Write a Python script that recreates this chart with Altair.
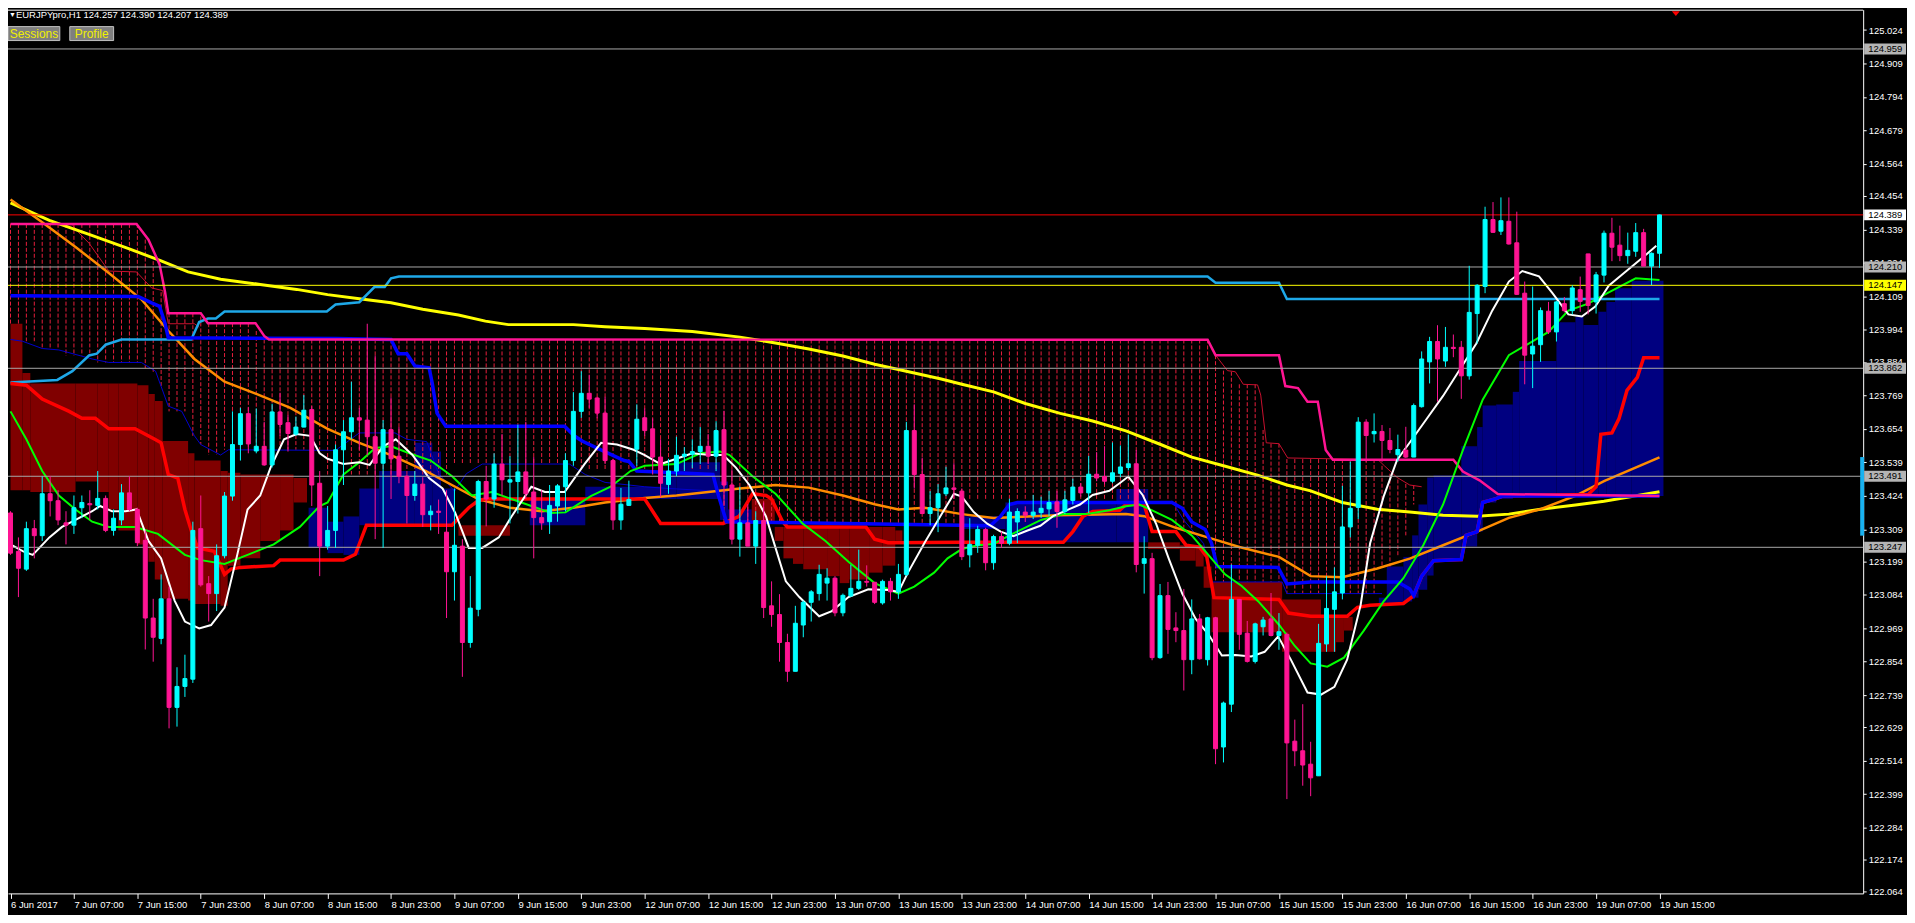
import altair as alt
import pandas as pd

# ---------------- candles (EURJPY H1, bar 0 = 6 Jun 23:00, bar 208 = 19 Jun 15:00) ----------------
OPEN = [123.365,123.233,123.172,123.311,123.287,123.431,123.407,123.331,123.323,123.383,
        123.397,123.391,123.415,123.305,123.341,123.434,123.377,123.271,123.004,122.934,
        123.070,122.697,122.769,122.794,123.311,123.122,123.088,123.218,123.423,123.600,
        123.706,123.578,123.594,123.530,123.712,123.675,123.636,123.660,123.720,123.467,
        123.251,123.305,123.582,123.644,123.692,123.684,123.627,123.536,123.651,123.560,
        123.491,123.425,123.464,123.359,123.371,123.299,123.163,123.251,122.920,123.034,
        123.473,123.413,123.533,123.471,123.473,123.506,123.437,123.349,123.335,123.389,
        123.455,123.545,123.714,123.776,123.760,123.708,123.545,123.341,123.391,123.584,
        123.692,123.654,123.557,123.463,123.509,123.560,123.567,123.576,123.594,123.560,
        123.651,123.461,123.275,123.331,123.251,123.339,123.046,123.016,122.920,122.821,
        122.980,123.058,123.088,123.124,123.141,123.022,123.080,123.106,123.130,123.127,
        123.056,123.130,123.094,123.154,123.648,123.497,123.363,123.383,123.431,123.451,
        123.440,123.221,123.254,123.308,123.194,123.284,123.261,123.334,123.368,123.357,
        123.366,123.379,123.403,123.370,123.408,123.454,123.434,123.498,123.490,123.474,
        123.501,123.521,123.534,123.192,123.208,122.868,123.081,122.970,122.961,122.861,
        123.001,122.861,123.005,122.561,122.708,123.068,122.952,122.855,122.974,123.001,
        122.944,122.948,122.581,122.548,122.502,122.462,122.915,123.034,123.090,123.317,
        123.384,123.677,123.637,123.645,123.614,123.565,123.581,123.557,123.730,123.884,
        123.954,123.887,123.934,123.934,123.836,124.050,124.143,124.373,124.333,124.367,
        124.293,124.120,123.911,123.943,124.058,123.987,124.084,124.060,124.132,124.255,
        124.090,124.182,124.326,124.285,124.249,124.264,124.328,124.213,124.257]
HIGH = [123.371,123.281,123.335,123.341,123.491,123.491,123.443,123.371,123.425,123.425,
        123.443,123.509,123.425,123.377,123.464,123.491,123.383,123.305,123.070,123.154,
        123.112,122.835,122.878,123.335,123.425,123.148,123.257,123.437,123.714,123.726,
        123.728,123.724,123.678,123.740,123.778,123.702,123.696,123.770,123.732,123.509,
        123.389,123.600,123.684,123.816,123.726,124.015,123.906,123.684,123.762,123.660,
        123.497,123.509,123.488,123.391,123.411,123.443,123.449,123.275,123.148,123.479,
        123.527,123.570,123.636,123.560,123.668,123.678,123.557,123.443,123.461,123.464,
        123.570,123.780,123.852,123.840,123.764,123.764,123.551,123.451,123.476,123.738,
        123.724,123.690,123.618,123.551,123.627,123.591,123.618,123.660,123.636,123.680,
        123.716,123.515,123.455,123.395,123.371,123.401,123.130,123.086,122.950,123.046,
        123.064,123.100,123.187,123.175,123.148,123.088,123.187,123.239,123.185,123.127,
        123.136,123.142,123.190,123.678,123.738,123.555,123.440,123.464,123.524,123.536,
        123.449,123.347,123.321,123.314,123.290,123.301,123.414,123.381,123.388,123.427,
        123.421,123.441,123.441,123.441,123.483,123.467,123.561,123.574,123.594,123.607,
        123.597,123.634,123.581,123.285,123.228,123.121,123.128,123.024,123.104,123.068,
        123.018,123.008,123.008,122.717,123.188,123.068,122.994,122.988,123.008,123.090,
        123.021,122.954,122.655,122.708,122.579,122.984,123.148,123.178,123.458,123.541,
        123.694,123.687,123.707,123.667,123.657,123.634,123.661,123.741,123.920,123.970,
        124.010,124.004,123.978,123.956,124.214,124.151,124.417,124.433,124.449,124.449,
        124.400,124.160,124.143,124.071,124.090,124.094,124.107,124.147,124.177,124.255,
        124.193,124.335,124.379,124.352,124.328,124.361,124.341,124.260,124.390]
LOW = [123.221,123.076,123.166,123.209,123.269,123.353,123.323,123.257,123.293,123.347,
       123.341,123.377,123.299,123.287,123.323,123.371,123.251,122.896,122.854,122.914,
       122.625,122.631,122.733,122.781,123.112,122.992,123.028,123.209,123.407,123.545,
       123.570,123.570,123.527,123.521,123.630,123.576,123.630,123.660,123.389,123.148,
       123.239,123.245,123.461,123.618,123.582,123.563,123.275,123.245,123.413,123.467,
       123.329,123.407,123.317,123.305,123.293,123.004,123.064,122.802,122.902,123.010,
       123.319,123.383,123.425,123.329,123.363,123.413,123.209,123.307,123.293,123.335,
       123.371,123.527,123.692,123.726,123.690,123.533,123.307,123.307,123.389,123.527,
       123.630,123.497,123.419,123.431,123.491,123.509,123.519,123.533,123.533,123.509,
       123.389,123.257,123.215,123.251,123.190,123.004,122.974,122.854,122.785,122.821,
       122.938,122.992,123.064,123.064,123.010,123.010,123.076,123.100,123.112,123.052,
       123.050,123.064,123.070,123.148,123.449,123.363,123.323,123.299,123.423,123.413,
       123.203,123.178,123.228,123.168,123.170,123.245,123.254,123.261,123.334,123.344,
       123.348,123.354,123.314,123.361,123.394,123.421,123.365,123.474,123.463,123.467,
       123.487,123.511,123.161,123.088,122.859,122.864,122.881,122.921,122.755,122.811,
       122.861,122.841,122.502,122.508,122.681,122.895,122.851,122.848,122.944,122.941,
       122.895,122.382,122.495,122.428,122.392,122.462,122.888,122.888,123.068,123.281,
       123.344,123.541,123.607,123.541,123.570,123.541,123.554,123.557,123.727,123.810,
       123.747,123.867,123.900,123.757,123.823,123.947,124.120,124.327,124.320,124.287,
       124.114,123.807,123.794,123.884,123.980,123.954,124.054,124.047,124.056,124.047,
       124.050,124.157,124.230,124.230,124.221,124.245,124.213,124.148,124.207]
CLOSE = [123.227,123.175,123.311,123.287,123.431,123.407,123.341,123.323,123.383,123.401,
         123.393,123.415,123.305,123.347,123.434,123.377,123.263,123.004,122.938,123.070,
         122.697,122.769,122.796,123.305,123.118,123.088,123.218,123.423,123.600,123.706,
         123.602,123.594,123.530,123.712,123.669,123.638,123.660,123.718,123.461,123.251,
         123.305,123.582,123.644,123.692,123.684,123.627,123.536,123.651,123.551,123.491,
         123.425,123.464,123.359,123.371,123.367,123.163,123.254,122.920,123.038,123.473,
         123.413,123.533,123.479,123.479,123.506,123.431,123.349,123.331,123.391,123.458,
         123.545,123.714,123.776,123.756,123.708,123.545,123.341,123.395,123.411,123.687,
         123.648,123.557,123.467,123.509,123.563,123.567,123.576,123.594,123.560,123.648,
         123.461,123.275,123.331,123.251,123.339,123.040,123.016,122.920,122.821,122.986,
         123.058,123.094,123.154,123.141,123.022,123.082,123.106,123.130,123.127,123.058,
         123.130,123.094,123.154,123.648,123.497,123.363,123.383,123.431,123.451,123.446,
         123.215,123.257,123.308,123.194,123.284,123.261,123.368,123.370,123.357,123.368,
         123.381,123.401,123.370,123.410,123.454,123.434,123.498,123.485,123.474,123.503,
         123.523,123.534,123.188,123.208,122.868,123.081,122.965,122.961,122.861,123.001,
         122.864,123.005,122.555,122.712,123.068,122.948,122.855,122.984,122.997,122.944,
         122.957,122.575,122.548,122.499,122.455,122.917,123.037,123.094,123.317,123.381,
         123.677,123.631,123.645,123.614,123.583,123.583,123.557,123.734,123.894,123.954,
         123.894,123.934,123.930,123.836,124.054,124.147,124.373,124.329,124.369,124.289,
         124.116,123.907,123.938,124.060,123.987,124.090,124.060,124.138,124.092,124.078,
         124.183,124.326,124.278,124.249,124.267,124.328,124.213,124.257,124.389]

# ---------------- indicator lines (bar position, price) ----------------
YELLOW_X = [0,4.9,9.9,14.9,19,22.4,26.5,31.5,36.1,40,44,48,52,56.5,59.9,62.8,71,75,80,86,92,96.5,100.7,105,109,113,117.4,120,124,128,132.4,136.5,140.7,145,149,153,157.4,161,164,168,172.4,176.5,180.7,185,189,193,197.4,201,208]
YELLOW_P = [124.430,124.370,124.322,124.273,124.231,124.193,124.168,124.150,124.133,124.115,124.101,124.087,124.065,124.045,124.024,124.012,124.012,124.005,123.999,123.988,123.969,123.949,123.928,123.904,123.876,123.852,123.825,123.807,123.781,123.741,123.707,123.681,123.647,123.601,123.557,123.527,123.494,123.461,123.441,123.401,123.378,123.368,123.357,123.354,123.361,123.378,123.392,123.405,123.438]

ORANGE_X = [0,4,8.2,12.4,16.5,19.9,23.2,27,31,35.3,40,44,48,52.4,56.5,59,63,67,71,75,80,84,88,92,96.5,100.7,105,109,112,115.3,120,124,132,140.7,143,147,151,155,160,164,168,172.4,176.5,180.7,185,189,193,197.4,201,208]
ORANGE_P = [124.442,124.364,124.279,124.189,124.099,123.991,123.894,123.816,123.774,123.726,123.654,123.606,123.564,123.509,123.449,123.413,123.383,123.371,123.383,123.401,123.416,123.425,123.437,123.449,123.461,123.452,123.425,123.395,123.377,123.383,123.361,123.348,123.357,123.361,123.354,123.314,123.281,123.248,123.214,123.148,123.144,123.174,123.208,123.254,123.301,123.348,123.378,123.424,123.474,123.556]

GREEN_X = [0,2,4,6.1,8.2,10.3,12.4,15.7,18.6,22,24,27,29.9,33.2,36.5,39,40,42,44,46,48,50.3,53,55.7,58.2,60.7,63.2,65.7,68.2,70,73.2,75.7,78.2,80,84,87,89.5,90.7,93.6,96.5,99.9,102.8,105.7,109,112,114,116.5,118.2,120,122,124,126,130,132.8,135.7,138.6,140.7,142.4,144,146.5,149,151.5,153.2,155.3,157.4,160,162,164,166.1,168.2,170.7,173.2,175.7,178.2,180.7,183.2,185.7,189,191.5,194,196.5,199,201.6,205,208]
GREEN_P = [123.714,123.618,123.509,123.425,123.377,123.335,123.317,123.317,123.293,123.221,123.203,123.190,123.221,123.257,123.317,123.389,123.401,123.497,123.539,123.588,123.594,123.570,123.545,123.491,123.425,123.437,123.413,123.389,123.365,123.367,123.423,123.455,123.509,123.527,123.533,123.570,123.576,123.564,123.491,123.431,123.329,123.269,123.197,123.124,123.088,123.112,123.160,123.209,123.241,123.254,123.258,123.288,123.341,123.361,123.361,123.374,123.388,123.394,123.374,123.341,123.288,123.208,123.154,123.114,123.061,122.981,122.908,122.848,122.837,122.868,122.961,123.061,123.141,123.254,123.394,123.581,123.754,123.907,123.947,123.987,124.060,124.084,124.123,124.171,124.165]

WHITE_X = [0,1.6,2.8,4.9,6.5,8.2,10.3,11.3,12.8,14.5,15.9,17.4,19,20.7,22,23.8,25.3,27,28.6,29.9,31.5,32.8,34.5,36.1,37.8,39,40,42,44,45.3,47,48.6,50.7,52.8,54.5,56.1,57.8,59.5,61.6,63.2,65.7,67.4,69.9,72.4,74.5,76.5,78.6,80,82,84,86,88.2,89.9,91.5,93.2,95.3,96.5,97.8,99.5,102,103.6,105.7,108.2,110.7,112,113.2,115.3,117.4,119,120,121.5,123.2,124.9,126.5,128.2,129.9,131.5,133.2,134.9,136.5,138.6,139.9,141,142.8,144.5,146.1,147.8,149.5,151.1,152.8,154.5,156.5,158.2,159.9,161.5,163.6,165.3,167,168.6,170.3,171.5,173.2,174.9,176.5,178.6,180.7,183.2,184.9,186.9,189,190.7,192.8,194.5,196.5,198.2,199.9,201.6,203.6,205.7,207.6]
WHITE_P = [123.257,123.233,123.221,123.281,123.317,123.341,123.371,123.389,123.371,123.371,123.377,123.269,123.209,123.064,122.992,122.968,122.980,123.040,123.221,123.377,123.425,123.521,123.618,123.636,123.630,123.570,123.551,123.533,123.539,123.530,123.594,123.618,123.564,123.485,123.449,123.365,123.245,123.245,123.281,123.353,123.455,123.437,123.437,123.533,123.606,123.600,123.582,123.564,123.533,123.551,123.570,123.564,123.564,123.521,123.461,123.353,123.245,123.130,123.076,123.010,123.028,123.076,123.103,123.100,123.094,123.160,123.263,123.359,123.431,123.421,123.368,123.328,123.301,123.285,123.304,123.321,123.354,123.374,123.394,123.427,123.441,123.467,123.490,123.427,123.328,123.208,123.088,123.001,122.948,122.875,122.877,122.872,122.888,122.941,122.861,122.748,122.741,122.768,122.861,123.048,123.261,123.421,123.547,123.607,123.687,123.767,123.874,123.947,124.060,124.160,124.196,124.178,124.120,124.047,124.040,124.074,124.146,124.191,124.238,124.283]

RED_X = [0,2,4,7.4,9,10.7,12.4,15.7,18.2,19,19.9,21.1,22,22.8,23.6,25.7,27,27.8,29,33.2,34,42,43.5,44.9,55.7,56.5,57.8,59,59.9,80,81,82,89.9,91.9,93.6,95.3,96,97.4,98,107.9,109,110.7,120,132.8,134,135.3,136.5,139.9,140.7,143,144,147,148.3,150,150.9,151.8,160,161.2,164,168.6,169.9,171.5,175.7,177,178,179.5,183,183.6,185,185.7,187.4,188.2,199,200,200.6,202,202.9,203.9,205.2,206,208]
RED_P = [123.810,123.804,123.756,123.714,123.690,123.690,123.654,123.654,123.618,123.606,123.497,123.485,123.377,123.305,123.245,123.233,123.154,123.172,123.178,123.184,123.203,123.203,123.223,123.323,123.323,123.347,123.383,123.407,123.413,123.413,123.371,123.329,123.329,123.353,123.431,123.425,123.413,123.335,123.317,123.317,123.275,123.263,123.264,123.264,123.301,123.354,123.370,123.374,123.394,123.394,123.301,123.301,123.254,123.248,123.214,123.074,123.068,123.021,123.010,123.010,123.041,123.048,123.054,123.081,123.148,123.201,123.205,123.288,123.301,123.401,123.414,123.423,123.428,123.455,123.635,123.640,123.689,123.786,123.831,123.898,123.898]

BLUE_X = [0,16.1,17.8,18.8,19.5,19.9,41,48,48.9,50,51,52.8,53.2,53.8,54.9,69.9,71.1,72.1,74,77.4,78,79,88.6,89.3,90.3,120,123.6,124.9,126,127,146.5,147.8,149,150.7,151.5,152.2,159.9,161,164,175,176.5,177,178,179.5,183,183.6,185,185.7,187.4,188.2,208]
BLUE_P = [124.111,124.109,124.087,124.075,124.015,123.967,123.964,123.961,123.912,123.912,123.870,123.864,123.810,123.708,123.663,123.663,123.630,123.612,123.588,123.545,123.542,123.509,123.497,123.425,123.335,123.323,123.321,123.354,123.394,123.401,123.401,123.381,123.334,123.308,123.261,123.181,123.178,123.121,123.128,123.128,123.104,123.081,123.148,123.201,123.205,123.288,123.301,123.401,123.414,123.423,123.423]

CYAN_X = [0,5.9,7.8,9.9,10.9,12,14,22.8,23.8,24.9,25.9,27,39.9,41,44,45.9,47.2,48,49,151,152,160,161,208]
CYAN_P = [123.813,123.822,123.852,123.906,123.912,123.943,123.961,123.961,124.021,124.033,124.033,124.057,124.057,124.081,124.089,124.141,124.141,124.171,124.177,124.177,124.156,124.156,124.100,124.100]

PINK_X = [0,15.9,17.4,18.8,19.5,19.9,24,24.9,30.9,32,32.6,151,152,160,160.8,162.4,163.6,164.9,165.9,166.8,182,183.2,185.3,187.6,208]
PINK_P = [124.358,124.358,124.304,124.219,124.123,124.051,124.051,124.017,124.017,123.973,123.961,123.960,123.907,123.907,123.801,123.794,123.747,123.747,123.581,123.548,123.548,123.507,123.477,123.430,123.423]

# thin crimson span line (two visible pieces)
THINRED_SEG = [0,0,0,0,0,0,0,0,0,0,0,1,1,1,1,1,1,1,1,1,1,1,1,1,1,1]
THINRED_X = [0,7.8,8.6,9.9,12.4,15.9,17.8,19.2,19.9,23.2,23.8,151,152,153.5,154.5,155.5,157.3,157.7,158.4,160,161.1,172.5,173.3,174.9,176.5,178]
THINRED_P = [124.358,124.355,124.328,124.292,124.196,124.193,124.138,124.129,124.015,124.015,124.003,123.960,123.907,123.854,123.850,123.807,123.805,123.770,123.606,123.603,123.554,123.548,123.527,123.487,123.461,123.455]

# thin blue span line (three visible pieces)
THINBLUE_SEG = [0]*15 + [1]*15 + [2]*7
THINBLUE_X = [0,1.5,4,6.1,10.3,12.4,16.5,18.3,19.9,21.6,23.2,24,26.5,27.5,41,
              41,44,48.5,50,52.5,54,56,57.5,59.5,70.5,72.5,75,80,83,89,
              146.5,148,150.5,151.5,160.4,161,173]
THINBLUE_P = [123.961,123.955,123.930,123.925,123.894,123.882,123.882,123.852,123.732,123.714,123.630,123.600,123.564,123.582,123.580,
              123.580,123.640,123.640,123.618,123.610,123.500,123.440,123.500,123.533,123.533,123.497,123.470,123.455,123.449,123.440,
              123.407,123.340,123.260,123.128,123.128,123.088,123.088]

# ---------------- cloud pieces: (from bar, to bar, upper, lower, kind) ----------------
CLOUDS = [
    (0,1.5,124.015,123.443,"R"),(1.5,2.5,123.846,123.443,"R"),(2.5,8.2,123.810,123.437,"R"),
    (8.2,11,123.810,123.473,"R"),(11,12.4,123.810,123.437,"R"),(12.4,13.6,123.810,123.377,"R"),
    (13.6,16,123.810,123.305,"R"),(16,17.4,123.804,123.257,"R"),(17.4,18.2,123.774,123.197,"R"),
    (18.2,19.2,123.750,123.136,"R"),(19.2,22.4,123.612,123.070,"R"),(22.4,23.2,123.570,123.064,"R"),
    (23.2,26.5,123.545,123.052,"R"),(26.5,27.4,123.509,123.046,"R"),(27.4,29,123.503,123.184,"R"),
    (29,31.5,123.497,123.209,"R"),(31.5,34,123.497,123.269,"R"),(34,35.7,123.497,123.305,"R"),
    (35.7,37.4,123.485,123.401,"R"),
    (37.6,40,123.383,123.245,"B"),(40,42,123.335,123.227,"B"),(42,44,123.353,123.221,"B"),
    (44,46.5,123.449,123.323,"B"),(46.5,51,123.509,123.323,"B"),(51,53.2,123.606,123.323,"B"),
    (53.2,54.3,123.576,123.323,"B"),(54.3,56,123.449,123.323,"B"),
    (56.5,63,123.323,123.287,"R"),
    (65.5,72.5,123.413,123.323,"B"),(72.5,82,123.455,123.413,"B"),(82,84,123.497,123.413,"B"),
    (84,89.5,123.539,123.413,"B"),(89.5,90.5,123.473,123.341,"B"),(90.5,93.5,123.377,123.329,"B"),
    (93.5,96.4,123.413,123.329,"R"),(96.4,97.5,123.317,123.269,"R"),(97.5,98.7,123.317,123.209,"R"),
    (98.7,100,123.317,123.190,"R"),(100,103,123.317,123.172,"R"),(103,104.6,123.317,123.148,"R"),
    (104.6,105.8,123.317,123.124,"R"),(105.8,108.3,123.317,123.136,"R"),(108.3,110,123.317,123.160,"R"),
    (110,111.6,123.317,123.184,"R"),(111.6,112.5,123.305,123.269,"R"),
    (120,125.5,123.354,123.310,"B"),(125.5,139.5,123.401,123.264,"B"),(139.5,143.5,123.447,123.264,"B"),
    (143.5,147.5,123.264,123.241,"R"),(147.5,149.5,123.254,123.201,"R"),(149.5,150.5,123.254,123.181,"R"),
    (150.5,151.5,123.181,123.108,"R"),(151.5,160.4,123.128,122.955,"R"),(160.4,165.3,123.068,122.888,"R"),
    (165.3,167.2,123.008,122.888,"R"),(167.2,168.2,123.008,122.921,"R"),(168.2,169.3,123.008,122.961,"R"),
    (172.6,173.6,123.074,123.054,"B"),(173.6,175.7,123.181,123.054,"B"),(175.7,176.8,123.214,123.061,"B"),
    (176.8,177.6,123.288,123.074,"B"),(177.6,178.7,123.394,123.101,"B"),(178.7,179.5,123.487,123.150,"B"),
    (179.5,183,123.494,123.201,"B"),(183,185,123.594,123.250,"B"),(185,185.7,123.660,123.301,"B"),
    (185.7,187.4,123.734,123.401,"B"),(187.4,189.5,123.738,123.414,"B"),(189.5,190.3,123.781,123.423,"B"),
    (190.3,195,123.887,123.423,"B"),(195,197.4,124.020,123.423,"B"),(197.4,198.4,124.039,123.423,"B"),
    (198.4,200.3,124.011,123.423,"B"),(200.3,201.3,124.056,123.423,"B"),(201.3,202.4,124.090,123.423,"B"),
    (202.4,204.5,124.137,123.423,"B"),(204.5,208.5,124.163,123.423,"B"),
]

# dotted histogram between the upper span and the lower span: (first bar, last bar, upper, lower)
HATCH = [
    (0,1,124.358,124.015),(2,3,124.358,123.955),(4,6,124.358,123.930),(7,10,124.358,123.905),
    (11,16,124.358,123.882),(17,17,124.304,123.862),(18,18,124.230,123.850),(19,19,124.123,123.800),
    (20,22,124.051,123.714),(23,23,124.051,123.630),(24,24,124.040,123.600),(25,26,124.017,123.564),
    (27,30,124.017,123.582),(31,31,123.990,123.582),(32,39,123.961,123.582),(40,55,123.961,123.497),
    (56,71,123.961,123.533),(72,89,123.961,123.509),(90,119,123.961,123.329),(120,146,123.961,123.407),
    (147,151,123.961,123.314),(152,152,123.907,123.128),(153,153,123.854,123.128),(154,154,123.850,123.128),
    (155,157,123.807,123.128),(158,158,123.650,123.128),(159,160,123.603,123.128),(161,172,123.550,123.088),
    (173,173,123.527,123.181),(174,174,123.500,123.181),(175,175,123.480,123.214),(176,176,123.465,123.288),
    (177,177,123.461,123.394),
]

LEVEL_PRICES = [124.959, 124.389, 124.210, 124.147, 123.862, 123.491, 123.247]
LEVEL_KIND = ["gray", "red", "gray", "yellow", "gray", "gray", "gray"]

Y_TICKS = [125.024,124.909,124.794,124.679,124.564,124.454,124.339,124.224,124.109,123.994,123.884,
           123.769,123.654,123.539,123.424,123.309,123.199,123.084,122.969,122.854,122.739,122.629,
           122.514,122.399,122.284,122.174,122.064]
X_LABELS = ["6 Jun 2017","7 Jun 07:00","7 Jun 15:00","7 Jun 23:00","8 Jun 07:00","8 Jun 15:00",
            "8 Jun 23:00","9 Jun 07:00","9 Jun 15:00","9 Jun 23:00","12 Jun 07:00","12 Jun 15:00",
            "12 Jun 23:00","13 Jun 07:00","13 Jun 15:00","13 Jun 23:00","14 Jun 07:00","14 Jun 15:00",
            "14 Jun 23:00","15 Jun 07:00","15 Jun 15:00","15 Jun 23:00","16 Jun 07:00","16 Jun 15:00",
            "16 Jun 23:00","19 Jun 07:00","19 Jun 15:00"]
X_LABEL_BARS = [0,8,16,24,32,40,48,56,64,72,80,88,96,104,112,120,128,136,144,152,160,168,176,184,192,200,208]

TITLE_TEXT = "EURJPYpro,H1  124.257 124.390 124.207 124.389"
AXIS_MARK_RANGE = [123.557, 123.287]

# ---------------- layout / styling ----------------
W, H = 1862, 887
PMIN, PMAX = 122.058, 125.094
FONT = "Liberation Sans, Arial, sans-serif"
FS = 9.5
UP, DOWN = "#00ffff", "#ff1493"

XS = alt.Scale(domain=[0.3125, 0.3125 + W / 8.0], nice=False, zero=False)
YS = alt.Scale(domain=[PMIN, PMAX], nice=False, zero=False)
HALF_BOX = 5.5 * (PMAX - PMIN) / H

label_expr = "[" + ",".join(f"'{s}'" for s in X_LABELS) + "][round(datum.value/8)]"
X_AXIS = alt.Axis(orient="bottom", values=X_LABEL_BARS, labelExpr=label_expr, title=None,
                  tickSize=5, labelAlign="left", labelBaseline="top", labelPadding=1,
                  labelFlush=False, labelOverlap=False, labelBound=False, grid=False)
Y_AXIS = alt.Axis(orient="right", values=Y_TICKS, format=".3f", title=None, tickSize=3,
                  labelPadding=2, labelAlign="left", labelBaseline="middle",
                  labelFlush=False, labelOverlap=False, grid=False)


def X(f):
    return alt.X(f"{f}:Q", scale=XS, axis=X_AXIS)


def Y(f):
    return alt.Y(f"{f}:Q", scale=YS, axis=Y_AXIS)


def line(xs, ps, color, width, seg=None):
    df = pd.DataFrame({"i": xs, "p": ps, "o": list(range(len(xs)))})
    df["s"] = seg if seg is not None else 0
    return alt.Chart(df).mark_line(color=color, strokeWidth=width, clip=True).encode(
        x=X("i"), y=Y("p"), detail="s:N", order="o:Q")


# clouds
cl = pd.DataFrame(CLOUDS, columns=["x0", "x1", "top", "bot", "kind"])
cl["col"] = cl["kind"].map({"R": "#800000", "B": "#000080"})
clouds = alt.Chart(cl).mark_rect(clip=True).encode(
    x=X("x0"), x2="x1:Q", y=Y("top"), y2="bot:Q", color=alt.Color("col:N", scale=None))

# hatch
hrows = []
for b0, b1, top, bot in HATCH:
    for b in range(b0, b1 + 1):
        hrows.append({"i": b, "top": top, "bot": bot})
hatch = alt.Chart(pd.DataFrame(hrows)).mark_rule(
    color="#e81e3c", strokeWidth=1, strokeDash=[4, 2], clip=True).encode(
    x=X("i"), y=Y("top"), y2="bot:Q")

# level lines and their price boxes on the axis
lv = pd.DataFrame({"p": LEVEL_PRICES, "kind": LEVEL_KIND})
lvcol = {"gray": "#a8a8a8", "red": "#ff0000", "yellow": "#ffff00"}
boxcol = {"gray": "#b4b4b4", "red": "#ffffff", "yellow": "#ffff00"}
lv["col"] = lv["kind"].map(lvcol)
lv["box"] = lv["kind"].map(boxcol)
lv["txt"] = [f"{p:.3f}" for p in LEVEL_PRICES]
lv["top"] = lv["p"] + HALF_BOX
lv["bot"] = lv["p"] - HALF_BOX
levels = alt.Chart(lv).mark_rule(strokeWidth=1).encode(
    y=Y("p"), x=alt.value(0), x2=alt.value(W), color=alt.Color("col:N", scale=None))
lvbox = alt.Chart(lv).mark_rect().encode(
    y=Y("top"), y2="bot:Q", x=alt.value(W + 1), x2=alt.value(W + 43), color=alt.Color("box:N", scale=None))
lvtxt = alt.Chart(lv).mark_text(align="left", baseline="middle", font=FONT, fontSize=FS, color="#000000").encode(
    y=Y("p"), x=alt.value(W + 5), text="txt:N")

axmark = alt.Chart(pd.DataFrame({"a": [AXIS_MARK_RANGE[0]], "b": [AXIS_MARK_RANGE[1]]})).mark_rect(color="#19b2f0").encode(
    y=Y("a"), y2="b:Q", x=alt.value(W - 3), x2=alt.value(W + 1))

# candles
cdf = pd.DataFrame({"i": list(range(len(OPEN))), "o": OPEN, "h": HIGH, "l": LOW, "c": CLOSE})
cdf["col"] = [UP if c >= o else DOWN for o, c in zip(OPEN, CLOSE)]
wicks = alt.Chart(cdf).mark_rule(strokeWidth=1, clip=True).encode(
    x=X("i"), y=Y("l"), y2="h:Q", color=alt.Color("col:N", scale=None))
bodies = alt.Chart(cdf).mark_bar(size=4, strokeWidth=1, clip=True).encode(
    x=X("i"), y=Y("o"), y2="c:Q", color=alt.Color("col:N", scale=None),
    stroke=alt.Stroke("col:N", scale=None))

# header texts, buttons, frame (fixed pixel positions)
one = pd.DataFrame({"t": [TITLE_TEXT]})
frame_top = alt.Chart(one).mark_rule(color="#ffffff", strokeWidth=1).encode(
    x=alt.value(0), x2=alt.value(W), y=alt.value(0.5))
tri = alt.Chart(one).mark_text(text="\u25bc", fontSize=7, color="white", align="left", baseline="middle").encode(
    x=alt.value(1), y=alt.value(5))
title = alt.Chart(one).mark_text(font=FONT, fontSize=FS, color="white", align="left", baseline="middle").encode(
    x=alt.value(8), y=alt.value(5), text="t:N")
btn1 = alt.Chart(one).mark_rect(fill="#7f7f7f", stroke="#c0c0c0", strokeWidth=1).encode(
    x=alt.value(0), x2=alt.value(52), y=alt.value(17), y2=alt.value(31))
btn2 = alt.Chart(one).mark_rect(fill="#7f7f7f", stroke="#c0c0c0", strokeWidth=1).encode(
    x=alt.value(62), x2=alt.value(106), y=alt.value(17), y2=alt.value(31))
btn1t = alt.Chart(one).mark_text(text="Sessions", font=FONT, fontSize=12, color="#f0f000",
                                 align="center", baseline="middle").encode(x=alt.value(26), y=alt.value(24.5))
btn2t = alt.Chart(one).mark_text(text="Profile", font=FONT, fontSize=12, color="#f0f000",
                                 align="center", baseline="middle").encode(x=alt.value(84), y=alt.value(24.5))
shift_mark = alt.Chart(one).mark_point(shape="M-1,-0.6L1,-0.6L0,0.6Z", filled=True, color="#ff0000",
                                       size=64, opacity=1, strokeWidth=0).encode(
    x=alt.value(1674), y=alt.value(4))

layers = [
    wicks.mark_rule(strokeWidth=0, opacity=0),  # axis carrier
    clouds, hatch,
    line(THINBLUE_X, THINBLUE_P, "#0000cd", 1, THINBLUE_SEG),
    line(THINRED_X, THINRED_P, "#c8102e", 1, THINRED_SEG),
    line(YELLOW_X, YELLOW_P, "#ffff00", 3),
    line(ORANGE_X, ORANGE_P, "#ff8c00", 2.5),
    line(CYAN_X, CYAN_P, "#1ea8e8", 2.5),
    line(RED_X, RED_P, "#ff0000", 3.5),
    line(BLUE_X, BLUE_P, "#0000ff", 3.5),
    line(PINK_X, PINK_P, "#ff1493", 2.5),
    line(GREEN_X, GREEN_P, "#00ff00", 2),
    line(WHITE_X, WHITE_P, "#ffffff", 2),
    levels, wicks, bodies, axmark, lvbox, lvtxt,
    frame_top, tri, title, btn1, btn2, btn1t, btn2t, shift_mark,
]

chart = alt.layer(*layers).properties(
    width=W, height=H,
    padding={"left": 0, "top": 0, "right": 44, "bottom": 20},
    autosize=alt.AutoSizeParams(type="none"),
    background="#000000",
).configure_view(stroke=None, fill="#000000").configure_axis(
    grid=False, domainColor="#ffffff", tickColor="#ffffff", labelColor="#ffffff",
    labelFont=FONT, labelFontSize=FS, domainWidth=1, tickWidth=1,
)

chart.save("out.html", embed_options={"renderer": "svg", "actions": False})
